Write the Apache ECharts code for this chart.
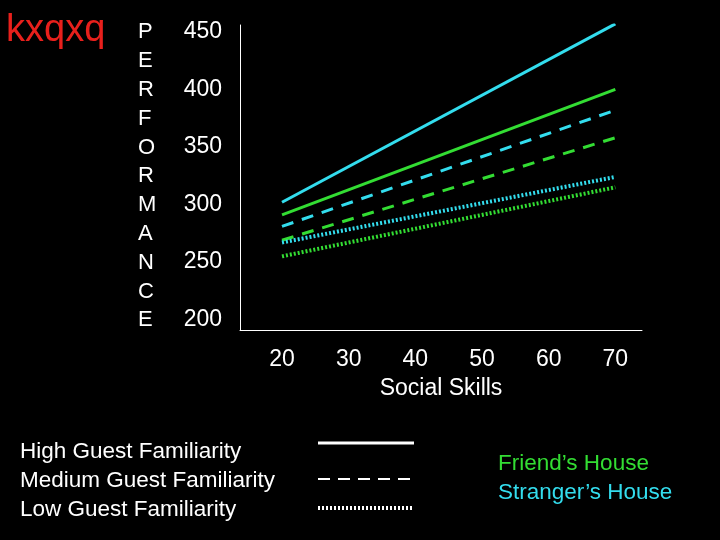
<!DOCTYPE html>
<html><head><meta charset="utf-8">
<script src="https://cdn.jsdelivr.net/npm/echarts@6/dist/echarts.min.js"></script>
<style>html,body{margin:0;background:#000}#c{width:720px;height:540px}</style>
</head><body><div id="c"></div>
<script>
// social skills at the two ends of each line
const skillEnds = [20, 70];
const xTicks = [20, 30, 40, 50, 60, 70];
const yTicks = [200, 250, 300, 350, 400, 450];
// performance values (start, end)
const strangerHigh = [302, 457];
const friendHigh = [291, 400];
const strangerMed = [281, 382];
const friendMed = [269, 358];
const strangerLow = [267, 324];
const friendLow = [255, 315];

const CYAN = '#33ddee', GREEN = '#33dd33';
const font = 'Liberation Sans, Arial, sans-serif';

function mk(name, vals, color, type, width) {
  return {
    name: name, type: 'line', symbol: 'none', silent: true,
    data: skillEnds.map((x, i) => [x, vals[i]]),
    lineStyle: { color: color, type: type, width: width }
  };
}

const chart = echarts.init(document.getElementById('c'));
chart.setOption({
  backgroundColor: '#000',
  animation: false,
  grid: { left: 240, right: 78, top: 25, bottom: 210 },
  xAxis: {
    type: 'value', min: 13.7, max: 74,
    name: 'Social Skills', nameLocation: 'middle', nameGap: 47,
    nameTextStyle: { color: '#fff', fontSize: 23, fontFamily: font },
    axisLine: { lineStyle: { color: '#fff', width: 1 } },
    axisTick: { show: false }, splitLine: { show: false },
    axisLabel: { customValues: xTicks, color: '#fff', fontSize: 23, fontFamily: font, margin: 18 }
  },
  yAxis: {
    type: 'value', min: 191, max: 456,
    axisLine: { show: true, lineStyle: { color: '#fff', width: 1 } },
    axisTick: { show: false }, splitLine: { show: false },
    axisLabel: { customValues: yTicks, color: '#fff', fontSize: 23, fontFamily: font, margin: 18, align: 'right' }
  },
  series: [
    mk('Stranger High', strangerHigh, CYAN, 'solid', 3),
    mk('Friend High', friendHigh, GREEN, 'solid', 3),
    mk('Stranger Medium', strangerMed, CYAN, [12, 9], 3),
    mk('Friend Medium', friendMed, GREEN, [12, 9], 3),
    mk('Stranger Low', strangerLow, CYAN, [2, 2], 4),
    mk('Friend Low', friendLow, GREEN, [2, 2], 4)
  ],
  graphic: [
    { type: 'text', left: 6, top: 12, style: { text: 'kxqxq', fill: '#e8201c', font: '38px ' + font } },
    { type: 'text', left: 138, top: 18, style: { text: 'PERFORMANCE'.split('').join('\n'), fill: '#fff', font: '22px ' + font, lineHeight: 28.8, align: 'left' } },
    { type: 'text', left: 20, top: 437, style: { text: 'High Guest Familiarity\nMedium Guest Familiarity\nLow Guest Familiarity', fill: '#fff', font: '22.5px ' + font, lineHeight: 29 } },
    { type: 'line', shape: { x1: 318, y1: 443, x2: 414, y2: 443 }, style: { stroke: '#fff', lineWidth: 3 } },
    { type: 'line', shape: { x1: 318, y1: 479, x2: 414, y2: 479 }, style: { stroke: '#fff', lineWidth: 2, lineDash: [12, 8] } },
    { type: 'line', shape: { x1: 318, y1: 508, x2: 414, y2: 508 }, style: { stroke: '#fff', lineWidth: 4, lineDash: [2, 2] } },
    { type: 'text', left: 498, top: 452, style: { text: 'Friend’s House', fill: GREEN, font: '22.5px ' + font } },
    { type: 'text', left: 498, top: 481, style: { text: 'Stranger’s House', fill: CYAN, font: '22.5px ' + font } }
  ]
});
</script></body></html>
